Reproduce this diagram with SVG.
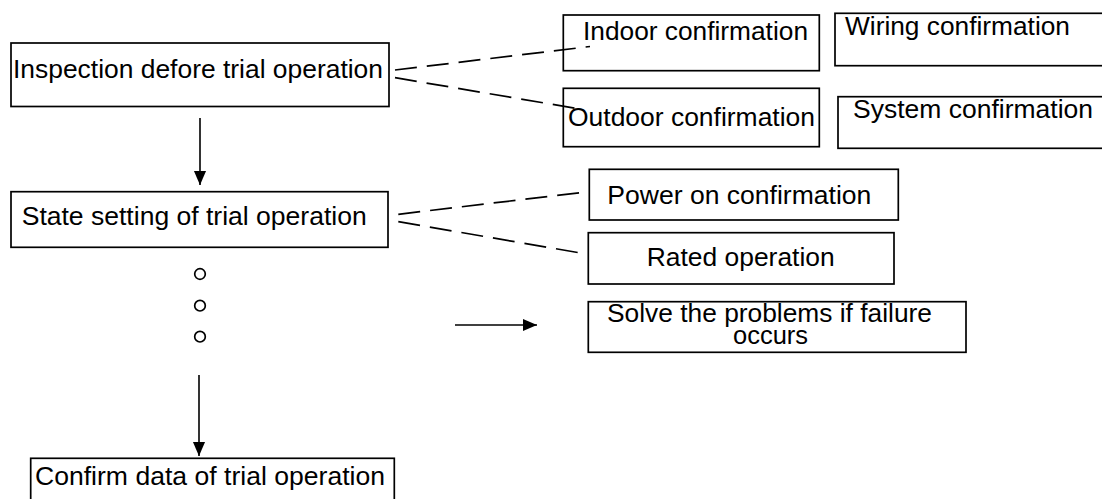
<svg xmlns="http://www.w3.org/2000/svg" width="1102" height="499" viewBox="0 0 1102 499">
<style>
  .box { fill: #fff; stroke: #000; stroke-width: 1.7; }
  .t { font-family: "Liberation Sans", Arial, sans-serif; font-size: 26px; fill: #000; }
  .dash { stroke: #000; stroke-width: 1.7; stroke-dasharray: 22 10; fill: none; }
  .ln { stroke: #000; stroke-width: 1.6; fill: none; }
  .dot { fill: #fff; stroke: #000; stroke-width: 1.7; }
</style>
<defs>
  <marker id="ah" markerUnits="userSpaceOnUse" markerWidth="14" markerHeight="16" refX="15" refY="6.5" orient="auto" viewBox="0 0 15 13">
    <path d="M0,0 L15,6.5 L0,13 Z" fill="#000"/>
  </marker>
</defs>
<rect width="1102" height="499" fill="#fff"/>

<g id="inspection">
  <rect class="box" x="11" y="43" width="378" height="63.5"/>
  <text class="t" x="13" y="78" textLength="370" lengthAdjust="spacingAndGlyphs">Inspection defore trial operation</text>
</g>

<g id="state">
  <rect class="box" x="11" y="191.7" width="377" height="55.6"/>
  <text class="t" x="21.7" y="225" textLength="345" lengthAdjust="spacingAndGlyphs">State setting of trial operation</text>
</g>

<g id="dots">
  <circle class="dot" cx="200" cy="274" r="5.3"/>
  <circle class="dot" cx="200" cy="305.7" r="5.3"/>
  <circle class="dot" cx="200" cy="336.7" r="5.3"/>
</g>

<g id="confirm">
  <rect class="box" x="30.7" y="458.3" width="363.6" height="60"/>
  <text class="t" x="35" y="485" textLength="350" lengthAdjust="spacingAndGlyphs">Confirm data of trial operation</text>
</g>

<g id="indoor">
  <rect class="box" x="563.3" y="15" width="256" height="55.7"/>
  <text class="t" x="583" y="40" textLength="225" lengthAdjust="spacingAndGlyphs">Indoor confirmation</text>
</g>

<g id="outdoor">
  <rect class="box" x="563.3" y="88.3" width="256" height="58.4"/>
  <text class="t" x="568" y="126" textLength="247" lengthAdjust="spacingAndGlyphs">Outdoor confirmation</text>
</g>

<g id="wiring">
  <rect class="box" x="835" y="13.3" width="280" height="52.4"/>
  <text class="t" x="845" y="35" textLength="225" lengthAdjust="spacingAndGlyphs">Wiring confirmation</text>
</g>

<g id="system">
  <rect class="box" x="838" y="96.7" width="280" height="51.6"/>
  <text class="t" x="853" y="118" textLength="240" lengthAdjust="spacingAndGlyphs">System confirmation</text>
</g>

<g id="poweron">
  <rect class="box" x="589.3" y="169.3" width="309" height="50.7"/>
  <text class="t" x="607.3" y="204" textLength="264" lengthAdjust="spacingAndGlyphs">Power on confirmation</text>
</g>

<g id="rated">
  <rect class="box" x="588.3" y="232.7" width="305.7" height="51.3"/>
  <text class="t" x="646.7" y="266" textLength="188" lengthAdjust="spacingAndGlyphs">Rated operation</text>
</g>

<g id="solve">
  <rect class="box" x="588.3" y="301.7" width="377.7" height="50.6"/>
  <text class="t" x="607" y="322" textLength="325" lengthAdjust="spacingAndGlyphs">Solve the problems if failure</text>
  <text class="t" x="733" y="344" textLength="75" lengthAdjust="spacingAndGlyphs">occurs</text>
</g>

<g id="connectors">
  <line class="ln" x1="200" y1="118" x2="200" y2="185" marker-end="url(#ah)"/>
  <line class="ln" x1="199" y1="375" x2="199" y2="456" marker-end="url(#ah)"/>
  <line class="ln" x1="455" y1="325" x2="537" y2="325" marker-end="url(#ah)"/>
  <line class="dash" x1="395" y1="70" x2="590" y2="46.5"/>
  <line class="dash" x1="395" y1="77.7" x2="580" y2="109"/>
  <line class="dash" x1="398.3" y1="214.3" x2="580" y2="192.7"/>
  <line class="dash" x1="398.3" y1="221.7" x2="582.3" y2="253.3"/>
</g>
</svg>
